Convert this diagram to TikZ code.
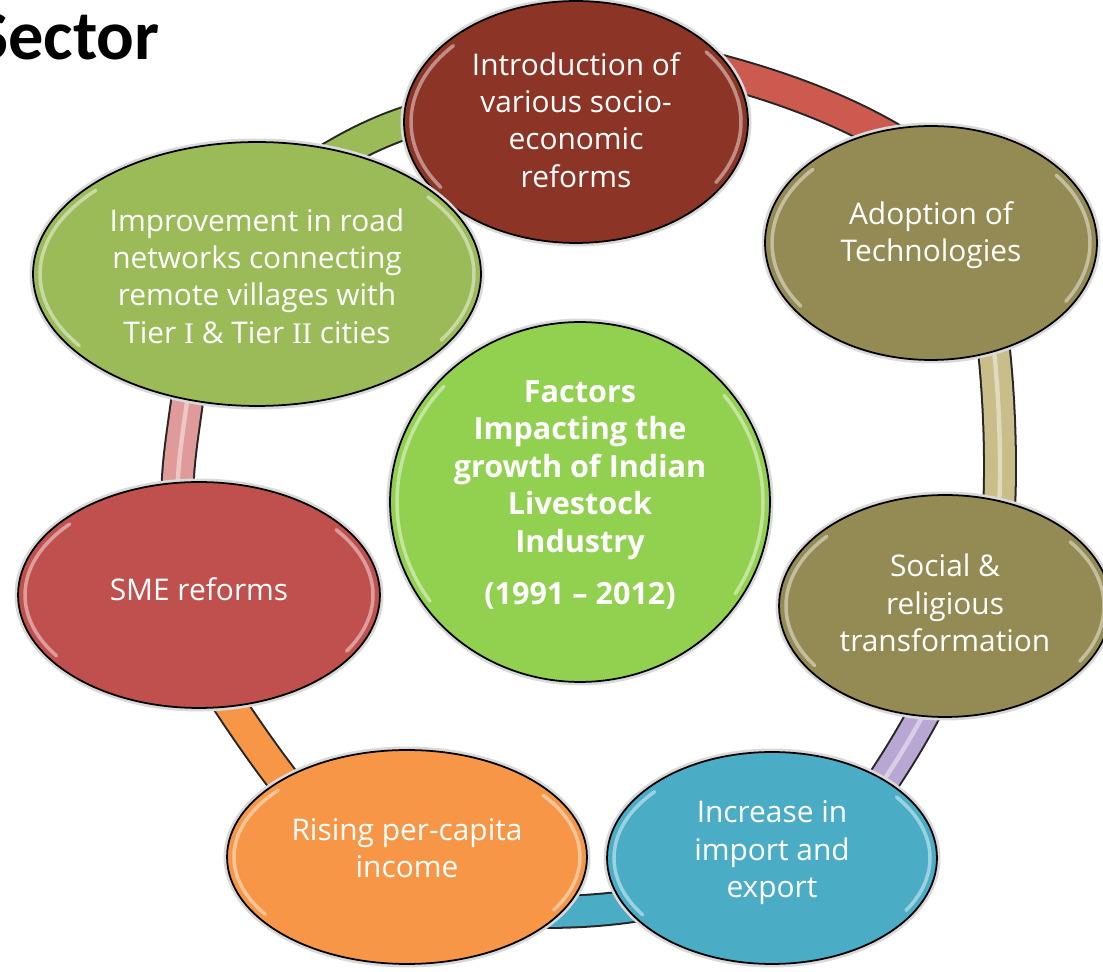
\documentclass[tikz,border=0pt]{standalone}
\usepackage{fontspec}
\setmainfont{Open Sans}
\newfontfamily\titlefont{Carlito}
\newfontfamily\seriffont{Liberation Serif}
\usetikzlibrary{shapes.geometric,calc}
\pgfdeclarelayer{background}
\pgfsetlayers{background,main}
\definecolor{cIntro}{HTML}{8C3426}
\definecolor{cOlive}{HTML}{948A54}
\definecolor{cSme}{HTML}{C0504D}
\definecolor{cImpr}{HTML}{9BBB59}
\definecolor{cCore}{HTML}{92D050}
\definecolor{cRising}{HTML}{F79646}
\definecolor{cIncr}{HTML}{4BACC6}
\definecolor{bGreen}{HTML}{9BBB59}
\definecolor{bRed}{HTML}{CD5A4E}
\definecolor{bTan}{HTML}{C9BD8A}
\definecolor{bLav}{HTML}{B9A7D3}
\definecolor{bBlue}{HTML}{4BACC6}
\definecolor{bOrange}{HTML}{F79646}
\definecolor{bPink}{HTML}{E09A9A}
\begin{document}
\begin{tikzpicture}[x=0.02cm, y=-0.02cm,
  blob/.style={ellipse, fill=#1, draw=black, line width=1pt, inner sep=0pt,
    preaction={draw=black!15, line width=4pt}},
  gloss/.style={draw=white, opacity=0.45, line width=2pt, line cap=round},
  txt/.style={text=white, align=center, inner sep=0pt,
    font=\fontsize{17pt}{21.3pt}\selectfont},
  band/.style={draw=black!85, line width=19.3pt, line cap=butt,
    postaction={draw=#1, line width=17pt}},
  shine/.style={postaction={draw=white, opacity=0.45, line width=2.5pt}}
]
\useasboundingbox (0,0) rectangle (1103,972);
\clip (0,0) rectangle (1103,972);

\node[anchor=base east, inner sep=0pt,
  font=\titlefont\bfseries\fontsize{40pt}{44pt}\selectfont] (title) at (160,60) {Sector};

% ellipses
\node[blob=cIntro, minimum width=6.88cm, minimum height=4.84cm] (intro) at (576,122) {};
\node[blob=cOlive, minimum width=6.64cm, minimum height=4.68cm] (adopt) at (931,243) {};
\node[blob=cImpr, minimum width=8.96cm, minimum height=5.28cm] (impr) at (257,274) {};
\node[blob=cSme, minimum width=7.24cm, minimum height=4.52cm] (sme) at (199,595) {};
\node[blob=cCore, minimum width=7.6cm, minimum height=7.2cm] (core) at (580,502) {};
\node[blob=cOlive, minimum width=6.64cm, minimum height=4.44cm] (social) at (945,606) {};
\node[blob=cIncr, minimum width=6.6cm, minimum height=4.24cm] (incr) at (772,858) {};
\node[blob=cRising, minimum width=7.2cm, minimum height=4.28cm] (rising) at (407,857) {};

% glossy inner rims
\foreach \n/\rx/\ry in {intro/172/121, adopt/166/117, impr/224/132, sme/181/113,
                        core/190/180, social/166/111, incr/165/106, rising/180/107} {
  \draw[gloss] ($(\n)+({(\rx-7)*cos(145)},{(\ry-7)*sin(145)})$)
     arc[start angle=145, end angle=222, x radius={\rx-7}, y radius={\ry-7}];
  \draw[gloss] ($(\n)+({(\rx-7)*cos(-38)},{(\ry-7)*sin(-38)})$)
     arc[start angle=-38, end angle=32, x radius={\rx-7}, y radius={\ry-7}];
}

% texts
\node[txt, yshift=0.04cm] (intro-t) at (intro) {Introduction of\\various socio-\\economic\\reforms};
\node[txt, yshift=0.16cm] (adopt-t) at (adopt) {Adoption of\\Technologies};
\node[txt, yshift=-0.04cm] (impr-t) at (impr)
  {Improvement in road\\networks connecting\\remote villages with\\Tier {\seriffont I} \& Tier {\seriffont II} cities};
\node[txt, yshift=0.12cm] (sme-t) at (sme) {SME reforms};
\node[txt, yshift=0.14cm, font=\bfseries\fontsize{17.4pt}{21.3pt}\selectfont] (core-t) at (core)
  {Factors\\Impacting the\\growth of Indian\\Livestock\\Industry\\[8.5pt](1991 – 2012)};
\node[txt, yshift=0.06cm] (social-t) at (social) {Social \&\\religious\\transformation};
\node[txt, yshift=0.1cm] (incr-t) at (incr) {Increase in\\import and\\export};
\node[txt, yshift=0.18cm] (rising-t) at (rising) {Rising per-capita\\income};

\begin{pgfonlayer}{background}
\draw[band=bGreen] ($(impr)+(43,-96)$) .. controls ($(impr)+(83,-124)$) and ($(intro)+(-186,1)$) .. ($(intro)+(-136,-8)$);
\draw[band=bRed] ($(intro)+(114,-59)$) .. controls ($(intro)+(184,-42)$) and ($(adopt)+(-91,-138)$) .. ($(adopt)+(-21,-93)$);
\draw[band=bTan, shine] ($(adopt)+(59,77)$) .. controls ($(adopt)+(67,127)$) and ($(social)+(58,-146)$) .. ($(social)+(53,-81)$);
\draw[band=bLav, shine] ($(social)+(-11,88)$) .. controls ($(social)+(-29,124)$) and ($(incr)+(124,-95)$) .. ($(incr)+(101,-62)$);
\draw[band=bBlue] ($(incr)+(-132,47)$) .. controls ($(incr)+(-164,52)$) and ($(rising)+(170,55)$) .. ($(rising)+(138,55)$);
\draw[band=bOrange] ($(rising)+(-109,-58)$) .. controls ($(rising)+(-138,-94)$) and ($(sme)+(43,129)$) .. ($(sme)+(18,90)$);
\draw[band=bPink, shine] ($(sme)+(-21,-85)$) .. controls ($(sme)+(-24,-130)$) and ($(impr)+(-71,146)$) .. ($(impr)+(-67,101)$);
\end{pgfonlayer}
\end{tikzpicture}
\end{document}
